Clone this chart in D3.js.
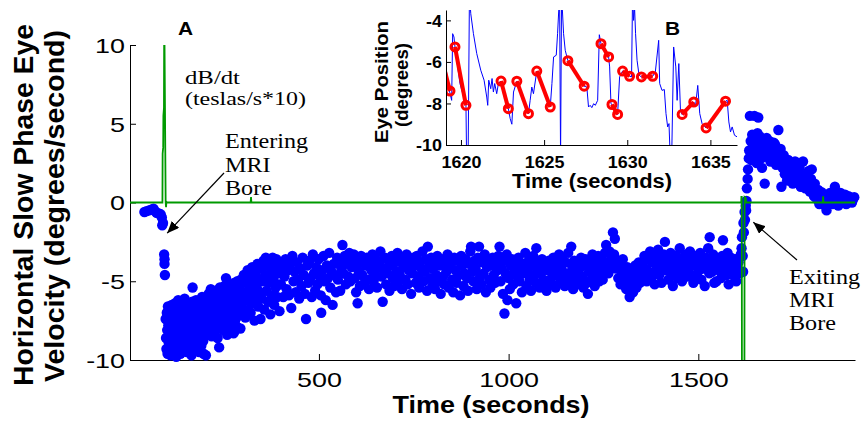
<!DOCTYPE html>
<html>
<head>
<meta charset="utf-8">
<script src="https://cdn.jsdelivr.net/npm/d3@7"></script>
<style>
  body { margin: 0; background: #fff; }
  svg { display: block; }
</style>
</head>
<body>
<div id="chart"></div>
<script>
// slow phase eye velocity, [time (s), velocity (deg/s)]
var preEntry = [[40,-0.6],[46,-0.55],[52,-0.5],[58,-0.45],[64,-0.4],[68,-0.55],[72,-0.65],[78,-0.7],[83,-0.75],[86,-0.95],[87,-1.45],[89,-1.3]];
var enteringBore = [[92,-3.3],[93,-3.6],[93,-3.9],[94,-4.6]];
var inBore = [
  [96,-7.4],[97,-8.6],[98,-9.3],[99,-7.0],[100,-8.1],[101,-9.6],[102,-6.6],[103,-7.8],[104,-8.9],[105,-7.2],[106,-9.4],[107,-8.3],[108,-6.9],[109,-9.7],[110,-7.6],[111,-8.7],[112,-6.5],[113,-9.1],[114,-8.0],[115,-7.3],[116,-9.5],[117,-6.8],[118,-8.4],[119,-7.7],[120,-9.2],[121,-6.4],[122,-8.8],[123,-7.5],[124,-9.8],[125,-8.2],[126,-6.9],[127,-7.9],[128,-9.3],[129,-6.2],[130,-8.5],[131,-7.1],[132,-9.0],[133,-8.0],[134,-6.7],[135,-9.6],[136,-7.4],[137,-8.6],[138,-6.3],[139,-7.9],[140,-9.1],[141,-8.3],[142,-6.8],[143,-9.4],[144,-7.6],[145,-8.8],[146,-6.1],[147,-7.2],[148,-9.0],[149,-8.1],[150,-6.6],[152,-9.5],[153,-7.8],[154,-8.4],[156,-6.4],[157,-7.3],[158,-9.2],[160,-8.6],[161,-6.9],[162,-7.7],[164,-9.7],[165,-8.2],[166,-6.3],[167,-5.4],[168,-7.5],[170,-8.9],[171,-6.7],[172,-9.3],[174,-7.9],[175,-8.5],[176,-6.2],[178,-7.0],[179,-9.0],[180,-8.3],[182,-6.5],[183,-7.6],[184,-9.5],[186,-8.7],[187,-6.8],[188,-7.2],[190,-9.1],[191,-8.0],[192,-6.0],[194,-7.4],[195,-8.8],[196,-9.6],[198,-6.6],[199,-7.8],[200,-8.4],
  [202,-9.7],[203,-7.2],[205,-6.1],[206,-8.3],[208,-7.0],[209,-5.8],[211,-8.0],[212,-6.6],[214,-7.5],[215,-5.5],[217,-8.5],[218,-6.9],[220,-6.2],[221,-7.8],[223,-5.9],[224,-7.1],[226,-8.2],[227,-6.4],[229,-5.6],[230,-7.4],[232,-6.8],[233,-8.6],[235,-6.0],[236,-7.3],[237,-9.2],[239,-5.4],[240,-6.7],[242,-7.9],[243,-6.3],[245,-5.7],[246,-7.0],[248,-8.1],[249,-6.5],[251,-5.3],[252,-7.6],[254,-6.1],[255,-4.8],[257,-7.2],[258,-8.4],[260,-5.8],[261,-6.6],[263,-7.7],[264,-5.2],[266,-6.9],[267,-8.0],[269,-6.2],[270,-5.5],[272,-7.3],[273,-6.0],[275,-8.3],[276,-5.1],[277,-8.2],[278,-6.8],[279,-7.5],[281,-5.6],[282,-6.4],[284,-7.9],[285,-5.0],[287,-6.7],[288,-7.2],[290,-5.4],[291,-6.1],[293,-8.0],[294,-4.9],[296,-6.5],[297,-7.0],[299,-5.7],
  [300,-6.9],[302,-4.6],[304,-5.8],[306,-7.3],[308,-5.1],[310,-6.2],[312,-4.3],[314,-6.8],[316,-5.5],[318,-4.8],[320,-7.0],[322,-5.9],[324,-4.1],[326,-6.4],[328,-5.2],[330,-7.5],[332,-4.5],[334,-6.0],[336,-5.4],[338,-3.9],[340,-6.6],[342,-4.9],[344,-5.7],[346,-7.4],[348,-4.2],[350,-6.1],[352,-5.0],[354,-3.7],[356,-6.8],[358,-4.6],[360,-3.5],[362,-5.6],[364,-4.0],[366,-6.3],[368,-5.1],[370,-3.8],[372,-7.1],[374,-4.4],[376,-5.9],[378,-3.5],[380,-4.8],[382,-6.5],[384,-4.1],[386,-5.4],[388,-3.6],[390,-6.0],[392,-4.5],[394,-5.2],[396,-6.9],[398,-3.9],
  [400,-5.2],[403,-4.1],[406,-6.0],[409,-4.7],[412,-3.6],[415,-5.5],[418,-4.3],[421,-5.9],[424,-3.9],[427,-6.7],[430,-3.4],[433,-5.0],[436,-4.4],[439,-5.7],[442,-3.8],[445,-4.9],[448,-6.1],[451,-4.2],[454,-5.3],[457,-3.5],[460,-4.6],[463,-5.8],[466,-7.4],[469,-4.0],[472,-5.1],[475,-3.7],[478,-4.8],[481,-6.0],[484,-3.3],[487,-4.5],[490,-5.6],[493,-4.1],[496,-5.2],[499,-3.6],[502,-4.7],[505,-5.9],[506,-7.0],[509,-4.3],[512,-3.4],[515,-5.0],[518,-6.2],[521,-4.0],[524,-4.8],[527,-3.2],[530,-5.4],[533,-4.4],[536,-6.5],[539,-3.9],[542,-4.6],[545,-5.7],[548,-3.5],
  [550,-4.9],[553,-3.8],[556,-5.6],[559,-4.2],[562,-2.7],[565,-4.5],[568,-3.4],[571,-5.2],[574,-3.9],[577,-4.7],[580,-3.2],[583,-5.0],[586,-4.1],[589,-3.6],[592,-3.3],[595,-4.8],[598,-5.7],[601,-3.9],[602,-6.4],[605,-4.4],[608,-5.3],[611,-3.4],[614,-4.6],[617,-3.7],[620,-5.1],[623,-4.0],[626,-3.5],[629,-4.9],[632,-5.5],[635,-3.8],[638,-4.3],[641,-3.3],[644,-5.0],[647,-4.6],[650,-3.6],[653,-5.4],[656,-4.1],[659,-3.9],[662,-3.1],[665,-4.7],[668,-6.3],[671,-4.2],[674,-3.5],[677,-5.2],[680,-4.5],[683,-3.7],[686,-5.6],[689,-4.0],[692,-3.4],[695,-4.8],[698,-5.3],[701,-3.8],[704,-4.4],[707,-3.2],[710,-5.0],[713,-4.6],[716,-3.6],[719,-5.5],[722,-4.1],[725,-3.9],[728,-4.9],[731,-3.3],[734,-5.2],[737,-4.3],[740,-3.7],[743,-5.8],[746,-4.5],[749,-3.5],[752,-4.0],[755,-5.1],[758,-3.4],[761,-4.7],[764,-5.4],[767,-3.8],[770,-4.2],[773,-3.1],[776,-5.0],[779,-4.4],[782,-3.6],[785,-5.6],[787,-2.8],[790,-4.1],[793,-4.8],[796,-3.5],[799,-5.3],
  [800,-4.2],[803,-3.7],[806,-5.5],[809,-4.6],[812,-3.4],[815,-5.0],[818,-4.0],[821,-5.8],[824,-3.6],[827,-4.7],[830,-5.2],[833,-3.9],[836,-4.4],[839,-3.3],[842,-5.4],[845,-4.1],[848,-3.8],[851,-4.9],[854,-5.7],[857,-3.5],[860,-4.3],[863,-5.1],[866,-3.7],[869,-4.6],[872,-5.9],[875,-3.4],[878,-4.0],[881,-5.3],[884,-4.5],[887,-3.6],[890,-4.8],[893,-5.6],[896,-3.9],[899,-3.1],[901,-2.8],[904,-4.4],[907,-5.0],[910,-3.7],[913,-4.2],[916,-5.5],[919,-3.5],[922,-2.8],[925,-4.7],[928,-5.2],[931,-3.8],[934,-4.5],[937,-3.3],[940,-5.7],[943,-4.1],[946,-3.6],[949,-4.9],[952,-5.4],[955,-4.0],[958,-3.5],[961,-4.6],[964,-5.1],[967,-3.9],[970,-4.3],[973,-3.4],[976,-2.8],[979,-5.0],[982,-4.2],[985,-5.8],[988,-3.7],[989,-7.05],[992,-4.5],[995,-3.3],[997,-6.2],[1000,-4.8],[1003,-5.5],[1006,-4.0],[1009,-3.6],[1012,-5.2],[1015,-4.4],[1018,-3.8],[1020,-6.4],[1023,-4.7],[1026,-3.5],[1029,-5.0],[1032,-4.1],[1035,-5.7],[1038,-3.9],[1041,-4.5],[1044,-3.2],[1047,-5.3],[1050,-4.3],[1053,-3.7],[1056,-4.9],[1059,-5.6],[1062,-4.0],[1065,-3.4],[1068,-4.6],[1071,-5.1],[1073,-2.9],[1076,-4.2],[1079,-3.8],[1082,-5.4],[1085,-4.5],[1088,-3.6],[1091,-4.9],[1094,-5.2],[1097,-4.0],
  [1100,-5.6],[1103,-4.3],[1106,-3.7],[1109,-4.9],[1112,-4.0],[1115,-5.2],[1118,-3.5],[1121,-4.6],[1124,-5.4],[1127,-3.9],[1130,-4.4],[1133,-3.3],[1136,-5.0],[1139,-4.2],[1142,-3.6],[1145,-4.8],[1148,-5.3],[1151,-3.8],[1154,-4.5],[1157,-3.2],[1160,-4.9],[1163,-5.1],[1165,-2.8],[1168,-4.1],[1170,-5.5],[1173,-3.7],[1176,-4.6],[1179,-5.2],[1182,-3.9],[1185,-4.3],[1188,-5.0],[1191,-3.5],[1194,-4.7],[1197,-5.4],[1200,-4.0],[1203,-3.6],[1206,-5.1],[1209,-5.8],[1212,-4.4],[1215,-3.8],[1218,-4.9],[1221,-3.3],[1224,-4.2],[1227,-5.3],[1230,-3.7],[1233,-4.6],[1236,-3.4],[1239,-5.0],[1242,-4.1],[1245,-3.6],[1248,-4.9],[1251,-4.3],[1254,-3.2],[1257,-2.7],[1260,-3.8],[1263,-4.5],[1266,-3.1],[1269,-4.0],[1272,-3.5],[1275,-1.9],[1278,-3.3],[1280,-2.3],[1283,-4.2],[1286,-3.7],[1289,-4.8],[1292,-3.9],[1295,-5.2],[1298,-4.4],[1301,-3.6],[1304,-5.0],[1307,-4.6],[1310,-5.5],[1313,-4.1],[1316,-4.9],[1319,-6.0],[1322,-5.3],[1325,-4.4],[1328,-5.7],[1331,-4.8],[1334,-4.0],[1337,-5.4],[1340,-4.6],[1343,-3.8],[1346,-5.1],[1349,-4.3],
  [1352,-3.9],[1355,-4.7],[1358,-3.4],[1361,-4.2],[1364,-5.0],[1367,-3.6],[1370,-4.4],[1373,-3.1],[1376,-4.8],[1379,-3.8],[1382,-4.5],[1385,-5.2],[1388,-3.5],[1391,-4.1],[1394,-3.0],[1397,-4.6],[1400,-3.7],[1403,-5.1],[1406,-4.0],[1409,-3.3],[1412,-2.5],[1415,-4.3],[1418,-3.6],[1421,-4.9],[1424,-3.9],[1427,-3.2],[1430,-4.5],[1433,-5.3],[1436,-3.7],[1439,-4.2],[1442,-3.4],[1445,-4.8],[1448,-3.8],[1451,-2.9],[1454,-4.4],[1457,-5.0],[1460,-3.5],[1463,-4.1],[1466,-3.3],[1469,-4.7],[1472,-3.9],[1475,-4.4],[1478,-3.1],[1481,-4.7],[1484,-3.6],[1487,-5.1],[1490,-4.0],[1493,-3.4],[1496,-4.6],[1499,-3.8],[1502,-4.3],[1505,-3.2],[1508,-4.9],[1511,-3.7],[1514,-4.2],[1517,-5.3],[1520,-3.5],[1523,-4.0],[1526,-2.9],[1529,-4.5],[1530,-2.2],[1533,-3.8],[1536,-4.4],[1539,-3.3],[1542,-5.1],[1545,-4.1],[1548,-5.0],[1551,-3.6],[1554,-4.3],[1557,-3.9],[1560,-4.8],[1563,-3.4],[1565,-2.4],[1568,-4.2],[1571,-3.7],[1574,-4.6],[1577,-3.2],[1580,-5.2],[1583,-4.0],[1586,-3.5],[1589,-4.4],[1592,-3.9],[1595,-4.7],[1598,-3.6],[1600,-5.0],[1603,-4.2],[1606,-3.8],[1609,-4.5],[1612,-3.3]
];
var exitingBore = [[1614,-2.9],[1615,-2.2],[1617,-3.4],[1618,-4.4],[1619,-1.3],[1620,-1.9],[1622,-0.6],[1623,-1.1],[1625,-0.2],[1626,-0.5],[1627,0.1]];
var postExit = [
  [1628,0.9],[1630,1.5],[1631,2.1],[1633,2.8],[1634,3.3],[1636,5.5],[1638,3.9],[1640,2.7],[1642,4.3],[1644,3.5],[1646,3.0],[1648,5.5],[1650,4.1],[1652,3.7],[1654,2.5],[1656,4.4],[1658,5.4],[1660,3.2],[1662,4.2],[1664,3.8],[1666,2.8],[1668,2.2],[1670,4.0],[1672,3.4],[1675,1.2],[1677,3.6],[1680,4.1],[1682,2.9],[1685,3.3],[1688,3.9],[1690,2.6],[1693,3.5],[1696,3.0],[1699,3.8],[1702,3.7],[1705,2.4],[1708,3.2],[1711,4.6],[1714,2.8],[1717,3.4],[1719,1.0],
  [1722,2.2],[1725,3.0],[1728,1.8],[1731,2.5],[1734,1.4],[1737,2.7],[1740,2.0],[1743,1.6],[1746,2.3],[1749,1.2],[1752,2.1],[1755,2.6],[1758,1.5],[1761,1.9],[1764,1.3],[1767,2.2],[1770,1.0],[1773,1.7],[1776,2.6],[1779,1.4],[1782,0.9],[1785,1.8],[1788,1.2],[1791,2.0],[1794,0.7],[1797,1.5],[1799,2.1],[1802,0.9],[1805,0.4],[1807,1.2],[1810,0.6],[1813,0.2],[1816,0.8],[1819,-0.1],[1822,0.5],[1825,0.65],[1828,0.1],[1831,0.3],[1834,-0.2],[1838,-0.5],[1841,0.4],[1844,0.0],[1847,0.6],[1851,0.3],[1854,-0.1],[1857,0.5],[1860,1.0],[1863,0.2],[1866,0.4],[1869,-0.2],[1872,0.3],[1875,0.6],[1878,0.4],[1881,0.0],[1884,0.3],[1887,0.5],[1890,-0.1],[1893,0.2],[1896,0.4],[1899,0.1],[1902,0.3],[1905,0.0],[1908,0.2],[1911,0.34]
];

// dB/dt trace, [time (s), teslas/s*10]
var dbdt = [[2,0],[87.5,0],[88,3.1],[89.5,3.5],[90,5.5],[91.5,6],[92,10],[93,10],[96,0],[97,-0.3],[98,0.05],[100,0],[320,0],[321,0.35],[322,0],[1613,0],[1613.5,0.35],[1614.5,0.35],[1615,-12],[1621.5,-12],[1622,0.35],[1625,0.3],[1626,0],[1828,0],[1829,0.4],[1830,0],[1913,0]];

// inset B: eye position trace, [time (s), degrees]
var eyeTrace = [[1619.10,-6.32],[1619.30,-7.37],[1619.44,-7.85],[1619.50,-4.64],[1619.58,-4.80],[1619.64,-5.28],[1619.94,-7.04],[1620.30,-8.09],[1620.34,-10.73],[1620.43,-10.73],[1620.51,-2.72],[1620.59,-3.68],[1620.75,-4.64],[1620.95,-5.60],[1621.19,-6.40],[1621.39,-6.88],[1621.55,-7.69],[1621.61,-8.09],[1621.67,-6.88],[1621.79,-7.29],[1621.87,-6.80],[1621.95,-7.45],[1622.03,-7.04],[1622.15,-7.53],[1622.25,-7.04],[1622.41,-6.92],[1622.85,-8.25],[1622.96,-8.73],[1623.06,-9.00],[1623.16,-7.45],[1623.36,-6.93],[1624.06,-8.49],[1624.16,-7.85],[1624.26,-7.21],[1624.36,-7.53],[1624.56,-6.44],[1625.37,-8.17],[1625.47,-7.04],[1625.57,-5.76],[1625.73,-5.68],[1625.81,-4.64],[1625.93,-2.72],[1625.99,-10.73],[1626.05,-2.72],[1626.17,-4.64],[1626.27,-5.44],[1626.43,-5.94],[1627.41,-7.17],[1627.57,-7.21],[1627.67,-8.17],[1627.77,-8.09],[1627.87,-8.20],[1627.98,-8.01],[1628.08,-8.09],[1628.22,-7.85],[1628.32,-4.69],[1628.42,-5.12],[1628.88,-5.76],[1628.94,-6.24],[1629.02,-8.01],[1629.08,-8.05],[1629.42,-8.53],[1629.54,-6.72],[1629.72,-6.44],[1630.14,-6.69],[1630.26,-6.72],[1630.32,-2.72],[1630.38,-4.00],[1630.44,-3.36],[1630.50,-4.64],[1630.59,-5.92],[1630.71,-6.64],[1630.85,-6.72],[1631.53,-6.69],[1631.69,-6.48],[1631.89,-4.96],[1631.95,-7.04],[1632.09,-7.37],[1632.23,-7.33],[1632.33,-8.49],[1632.43,-9.13],[1632.51,-8.97],[1632.59,-10.73],[1632.67,-10.73],[1632.79,-5.28],[1632.92,-6.24],[1633.00,-7.85],[1633.10,-6.08],[1633.20,-8.33],[1633.30,-8.53],[1634.00,-7.93],[1634.10,-8.17],[1634.24,-7.13],[1634.36,-8.49],[1634.50,-8.97],[1634.74,-9.18],[1635.91,-7.89],[1636.01,-7.85],[1636.11,-8.89],[1636.21,-9.37],[1636.31,-9.13],[1636.45,-9.53],[1636.61,-9.61]];

// inset B: fitted slow phase segments, start and end point
var slowSegments = [
  [[1618.9,-6.0],[1619.34,-7.40]],
  [[1619.64,-5.28],[1620.30,-8.09]],
  [[1622.41,-6.92],[1622.85,-8.25]],
  [[1623.36,-6.93],[1624.06,-8.49]],
  [[1624.56,-6.44],[1625.37,-8.17]],
  [[1626.43,-5.94],[1627.41,-7.17]],
  [[1628.42,-5.12],[1628.88,-5.76]],
  [[1629.08,-8.05],[1629.42,-8.53]],
  [[1629.72,-6.44],[1630.14,-6.69]],
  [[1630.85,-6.72],[1631.53,-6.69]],
  [[1633.30,-8.53],[1634.00,-7.93]],
  [[1634.74,-9.18],[1635.91,-7.89]]
];

var mainXTicks = [500, 1000, 1500];
var mainYTicks = [-10, -5, 0, 5, 10];
var insetXTicks = [1620, 1625, 1630, 1635];
var insetYTicks = [-10, -8, -6, -4];

var width = 862, height = 421;
var sans = "Liberation Sans";
var serif = "Liberation Serif";

var svg = d3.select("#chart").append("svg")
    .attr("width", width)
    .attr("height", height);

// stretch text along its own direction
function stretch(sel, k) {
    sel.each(function() {
        var w = this.getComputedTextLength();
        d3.select(this).attr("textLength", w * k).attr("lengthAdjust", "spacingAndGlyphs");
    });
}

/* MAIN AXES */
var x = d3.scaleLinear().domain([2, 1913]).range([130, 855]);
var y = d3.scaleLinear().domain([-10, 10]).range([360, 45]);

var defs = svg.append("defs");
defs.append("clipPath").attr("id", "mainClip")
    .append("rect").attr("x", 130).attr("y", 45).attr("width", 725).attr("height", 315);
defs.append("clipPath").attr("id", "insetClip")
    .append("rect").attr("x", 446).attr("y", 10).attr("width", 291).attr("height", 135);
defs.append("marker").attr("id", "head")
    .attr("viewBox", "0 0 12 10").attr("refX", 12).attr("refY", 5)
    .attr("markerWidth", 12).attr("markerHeight", 10).attr("markerUnits", "userSpaceOnUse")
    .attr("orient", "auto")
    .append("path").attr("d", "M0,0L12,5L0,10Z").attr("fill", "#000");

var xAxis = svg.append("g")
    .attr("transform", "translate(0,360)")
    .call(d3.axisBottom(x).tickValues(mainXTicks).tickFormat(String).tickSizeInner(-6).tickSizeOuter(0));
xAxis.selectAll("text").attr("y", 27).attr("dy", 0)
    .attr("font-family", sans).attr("font-size", 21).attr("fill", "#000")
    .call(stretch, 1.28);

var yAxis = svg.append("g")
    .attr("transform", "translate(130,0)")
    .call(d3.axisLeft(y).tickValues(mainYTicks).tickFormat(String).tickSizeInner(-6).tickSizeOuter(0).tickPadding(5));
yAxis.selectAll("text").attr("dy", "0.35em")
    .attr("font-family", sans).attr("font-size", 21).attr("fill", "#000")
    .call(stretch, 1.28);

svg.selectAll(".domain, .tick line").attr("stroke", "#000").attr("stroke-width", 1);

/* VELOCITY POINTS */
var allPoints = preEntry.concat(enteringBore, inBore, exitingBore, postExit);
svg.append("g")
    .selectAll("circle")
    .data(allPoints)
    .enter()
    .append("circle")
        .attr("cx", d => x(d[0]))
        .attr("cy", d => y(d[1]))
        .attr("r", 5.2)
        .attr("fill", "#0000ff");

/* dB/dt TRACE */
var line = d3.line().x(d => x(d[0])).y(d => y(d[1]));
svg.append("path")
    .datum(dbdt)
    .attr("clip-path", "url(#mainClip)")
    .attr("d", line)
    .attr("fill", "none")
    .attr("stroke", "#009a00")
    .attr("stroke-width", 1.8);

/* INSET B */
var xi = d3.scaleLinear().domain([1619.1, 1636.6]).range([446, 737]);
var yi = d3.scaleLinear().domain([-10, -3.5]).range([145, 10]);
var inset = svg.append("g");

inset.append("rect").attr("x", 446).attr("y", 10).attr("width", 291).attr("height", 135).attr("fill", "#fff");

var lineI = d3.line().x(d => xi(d[0])).y(d => yi(d[1]));
inset.append("path")
    .datum(eyeTrace)
    .attr("clip-path", "url(#insetClip)")
    .attr("d", lineI)
    .attr("fill", "none")
    .attr("stroke", "#0000ff")
    .attr("stroke-width", 1);

var segG = inset.append("g").attr("clip-path", "url(#insetClip)");
segG.selectAll("path")
    .data(slowSegments)
    .enter()
    .append("path")
        .attr("d", lineI)
        .attr("fill", "none")
        .attr("stroke", "#ff0000")
        .attr("stroke-width", 4);
segG.selectAll("circle")
    .data(slowSegments.slice(1).flat().concat([slowSegments[0][1]]))
    .enter()
    .append("circle")
        .attr("cx", d => xi(d[0]))
        .attr("cy", d => yi(d[1]))
        .attr("r", 4)
        .attr("fill", "none")
        .attr("stroke", "#ff0000")
        .attr("stroke-width", 3);

var xiAxis = inset.append("g")
    .attr("transform", "translate(0,145)")
    .call(d3.axisBottom(xi).tickValues(insetXTicks).tickFormat(String).tickSizeInner(-5).tickSizeOuter(0));
xiAxis.selectAll("text").attr("y", 23).attr("dy", 0)
    .attr("font-family", sans).attr("font-size", 16).attr("font-weight", "bold").attr("fill", "#000")
    .call(stretch, 1.12);

var yiAxis = inset.append("g")
    .attr("transform", "translate(446,0)")
    .call(d3.axisLeft(yi).tickValues(insetYTicks).tickFormat(String).tickSizeInner(-5).tickSizeOuter(0).tickPadding(4));
yiAxis.selectAll("text").attr("dy", "0.36em")
    .attr("font-family", sans).attr("font-size", 16).attr("font-weight", "bold").attr("fill", "#000")
    .call(stretch, 1.12);

inset.selectAll(".domain, .tick line").attr("stroke", "#000").attr("stroke-width", 1);

/* AXIS TITLES */
function label(g, txt, px, py, size, opts) {
    var t = g.append("text")
        .attr("transform", "translate(" + px + "," + py + ")" + (opts.rotate ? " rotate(-90)" : ""))
        .attr("text-anchor", opts.anchor || "start")
        .attr("font-family", opts.family || sans)
        .attr("font-size", size)
        .attr("font-weight", opts.bold ? "bold" : "normal")
        .attr("fill", "#000")
        .text(txt);
    if (opts.len) t.attr("textLength", opts.len).attr("lengthAdjust", "spacingAndGlyphs");
    else if (opts.k) t.call(stretch, opts.k);
    return t;
}

label(svg, "Horizontal Slow Phase Eye", 33, 205, 27, {rotate: true, anchor: "middle", bold: true, len: 362});
label(svg, "Velocity (degrees/second)", 64, 206, 27, {rotate: true, anchor: "middle", bold: true, len: 352});
label(svg, "Time (seconds)", 491, 413, 24, {anchor: "middle", bold: true, len: 197});

label(inset, "Eye Position", 388, 82, 19, {rotate: true, anchor: "middle", bold: true, len: 122});
label(inset, "(degrees)", 408, 85, 19, {rotate: true, anchor: "middle", bold: true, len: 84});
label(inset, "Time (seconds)", 592, 188, 20, {anchor: "middle", bold: true, len: 160});

/* PANEL LETTERS AND NOTES */
label(svg, "A", 178, 35, 19, {bold: true, k: 1.1});
label(svg, "B", 665, 35, 19, {bold: true, k: 1.1});

label(svg, "dB/dt", 185, 84, 19.5, {family: serif, len: 55});
label(svg, "(teslas/s*10)", 185, 105, 19.5, {family: serif, len: 121});

["Entering", "MRI", "Bore"].forEach(function(s, i) {
    label(svg, s, 225, 148 + i * 23.5, 21, {family: serif, k: 1.15});
});
["Exiting", "MRI", "Bore"].forEach(function(s, i) {
    label(svg, s, 789, 284 + i * 23, 21, {family: serif, k: 1.15});
});

svg.append("line")
    .attr("x1", 224).attr("y1", 173).attr("x2", x(100)).attr("y2", y(-1.95))
    .attr("stroke", "#000").attr("stroke-width", 1.2).attr("marker-end", "url(#head)");
svg.append("line")
    .attr("x1", 797).attr("y1", 260).attr("x2", x(1645)).attr("y2", y(-1.25))
    .attr("stroke", "#000").attr("stroke-width", 1.2).attr("marker-end", "url(#head)");
</script>
</body>
</html>
